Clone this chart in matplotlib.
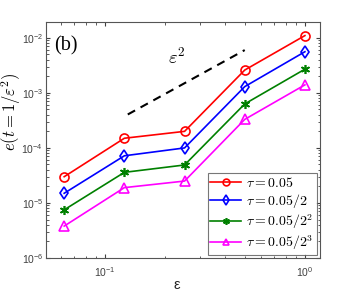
import numpy as np
import matplotlib
matplotlib.use("Agg")
import matplotlib.pyplot as plt

plt.rcParams['font.family'] = ['Liberation Sans', 'DejaVu Sans']
plt.rcParams['mathtext.fontset'] = 'cm'

# data
eps = [1/16, 1/8, 1/4, 1/2, 1.0]
err_tau1 = [3.0e-5, 1.5e-4, 2.0e-4, 2.6e-3, 1.1e-2]
err_tau2 = [1.5e-5, 7.2e-5, 1.0e-4, 1.3e-3, 5.6e-3]
err_tau3 = [7.5e-6, 3.6e-5, 4.9e-5, 6.3e-4, 2.7e-3]
err_tau4 = [3.8e-6, 1.9e-5, 2.5e-5, 3.3e-4, 1.4e-3]
labels = [r'$\tau = 0.05$', r'$\tau = 0.05/2$', r'$\tau = 0.05/2^2$', r'$\tau = 0.05/2^3$']
ref_eps = [0.13, 0.5]
ref_const = 0.024

fig = plt.figure(figsize=(3.54, 3.0), dpi=100)
ax = fig.add_axes([0.130, 0.14, 0.774, 0.787])

tick_col = '#404040'
series = [
    (err_tau1, 'red', 'o', 'none'),
    (err_tau2, 'blue', 'd', 'none'),
    (err_tau3, 'green', (6, 2, 0), 'green'),
    (err_tau4, 'magenta', '^', 'none'),
]
for (vals, col, mk, fc), lab in zip(series, labels):
    ax.plot(eps, vals, color=col, marker=mk, markerfacecolor=fc,
            markeredgecolor=col, markersize=6.5, linewidth=1.2,
            markeredgewidth=1.2, label=lab)

ref_y = [ref_const * e**2 for e in ref_eps]
ax.plot(ref_eps, ref_y, 'k--', linewidth=1.5, dashes=(4, 3))
ax.text(0.206, 3.3e-3, r'$\varepsilon^2$', fontsize=13.5)

ax.set_xscale('log')
ax.set_yscale('log')
ax.set_xlim(0.0507, 1.19)
ax.set_ylim(1e-6, 1.95e-2)

ax.tick_params(which='both', direction='in', top=True, right=True,
               colors=tick_col, labelsize=7.5)
ax.tick_params(which='major', length=3)
ax.tick_params(axis='x', which='major', pad=5)
ax.tick_params(axis='y', which='major', pad=2)
ax.tick_params(which='minor', length=1.8)
for s in ax.spines.values():
    s.set_color('#555555')
    s.set_linewidth(0.8)

fig.text(177 / 354, 1 - 285 / 300, 'ε', fontsize=10.5, ha='center', va='center',
         color='#262626')
fig.text(11 / 354, 1 - 112 / 300, r'$e(t=1/\varepsilon^2)$', fontsize=12,
         rotation=90, ha='center', va='center')
ax.text(0.03, 0.94, '(b)', transform=ax.transAxes, fontsize=14.5,
        family='Liberation Serif', va='top', ha='left')

leg = ax.legend(loc='lower right', fontsize=10, frameon=True, fancybox=False,
                edgecolor='#555555', handlelength=2.2, handletextpad=0.4,
                borderpad=0.2, labelspacing=0.15, borderaxespad=0.25,
                markerscale=0.75)
leg.get_frame().set_linewidth(0.8)

fig.savefig('out.png', dpi=100)
